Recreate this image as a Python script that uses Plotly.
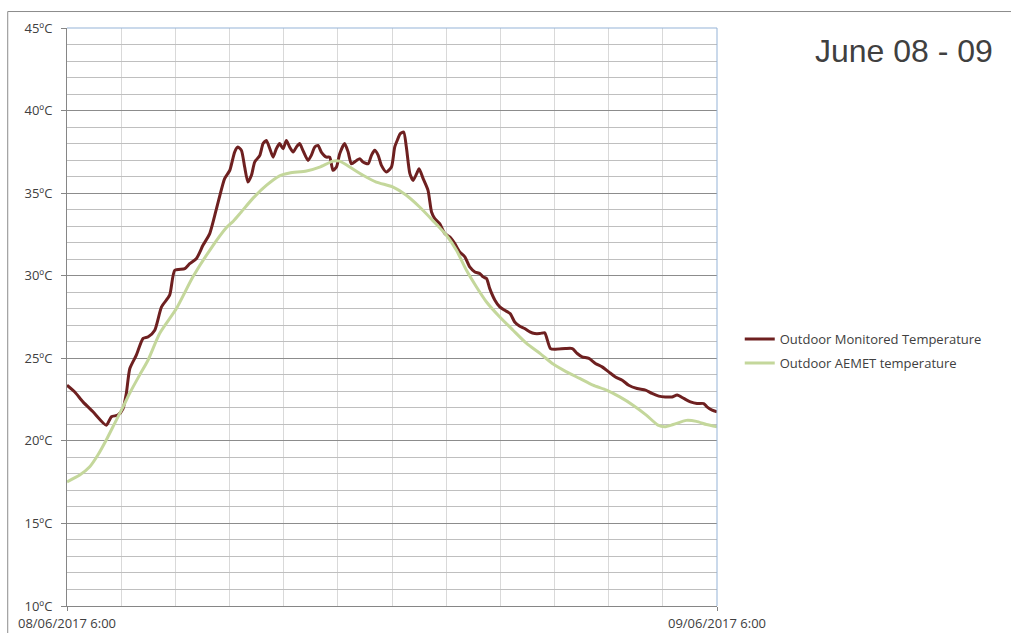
import plotly.graph_objects as go
import pandas as pd

# ---- data (hours after 08/06/2017 6:00, temperature in ºC) ----
mon_hours = [0.00, 0.28, 0.59, 0.96, 1.45, 1.64, 1.88, 2.07, 2.19, 2.32, 2.56, 2.81, 3.00, 3.24,
             3.49, 3.79, 3.98, 4.35, 4.53, 4.78, 5.02, 5.27, 5.52, 5.82, 6.01, 6.19, 6.31, 6.44,
             6.56, 6.68, 6.81, 6.93, 7.12, 7.24, 7.36, 7.49, 7.61, 7.73, 7.85, 7.98, 8.10, 8.22,
             8.35, 8.47, 8.59, 8.71, 8.90, 9.02, 9.15, 9.27, 9.39, 9.58, 9.70, 9.82, 9.95, 10.07,
             10.25, 10.38, 10.50, 10.69, 10.81, 10.93, 11.12, 11.24, 11.36, 11.49, 11.61, 11.79,
             11.98, 12.10, 12.22, 12.30, 12.43, 12.53, 12.66, 12.78, 12.91, 13.00, 13.15, 13.33,
             13.46, 13.58, 13.76, 13.95, 14.13, 14.32, 14.50, 14.69, 14.87, 15.06, 15.24, 15.36,
             15.49, 15.61, 15.80, 15.98, 16.16, 16.36, 16.53, 16.72, 16.90, 17.09, 17.27, 17.46,
             17.64, 17.70, 17.85, 18.03, 18.40, 18.66, 18.84, 19.02, 19.27, 19.51, 19.76, 20.00,
             20.25, 20.50, 20.74, 21.05, 21.36, 21.60, 21.85, 22.09, 22.34, 22.53, 22.77, 23.02,
             23.26, 23.51, 23.63, 23.82, 24.00]
mon_temp = [23.37, 22.97, 22.36, 21.76, 20.95, 21.46, 21.56, 21.96, 22.87, 24.38, 25.19, 26.20, 26.30, 26.70,
            28.11, 28.82, 30.33, 30.43, 30.73, 31.04, 31.84, 32.55, 34.06, 35.88, 36.38, 37.49, 37.79, 37.59,
            36.58, 35.67, 36.08, 36.88, 37.29, 38.00, 38.19, 37.69, 37.18, 37.69, 38.00, 37.69, 38.19, 37.79,
            37.49, 37.79, 38.00, 37.59, 36.98, 37.29, 37.79, 37.89, 37.49, 37.18, 37.18, 36.38, 36.58, 37.39,
            38.00, 37.49, 36.78, 36.98, 37.09, 36.88, 36.78, 37.29, 37.59, 37.29, 36.68, 36.28,
            36.58, 37.79, 38.30, 38.60, 38.70, 37.79, 36.18, 35.77, 36.18, 36.48, 35.88, 35.17,
            33.86, 33.46, 33.15, 32.55, 32.35, 31.94, 31.44, 31.14, 30.53, 30.23, 30.13, 29.93,
            29.83, 29.22, 28.52, 28.11, 27.91, 27.71, 27.20, 26.94, 26.80, 26.60, 26.50, 26.50,
            26.55, 26.30, 25.59, 25.55, 25.59, 25.59, 25.29, 25.09, 24.99, 24.69, 24.48, 24.18,
            23.87, 23.67, 23.37, 23.17, 23.07, 22.87, 22.71, 22.66, 22.66, 22.77, 22.57, 22.36,
            22.26, 22.26, 22.06, 21.86, 21.76]

aemet_hours = [0.00, 0.47, 0.84, 1.14, 1.45, 1.76, 2.07, 2.31, 2.68, 2.99, 3.42, 4.04, 4.65, 5.27,
               5.88, 6.14, 6.38, 6.87, 7.36, 7.85, 8.22, 8.84, 9.33, 9.82, 10.07, 10.44, 10.93,
               11.42, 12.04, 12.53, 13.02, 13.50, 14.01, 14.38, 14.75, 15.12, 15.49, 15.98, 16.47,
               16.97, 17.46, 17.95, 18.44, 18.93, 19.42, 19.92, 20.41, 20.90, 21.39, 21.82, 22.07,
               22.38, 22.87, 23.24, 23.61, 24.00]
aemet_temp = [17.52, 17.93, 18.43, 19.14, 20.05, 21.06, 22.06, 22.87, 23.98, 24.88, 26.50, 28.01, 29.93, 31.54,
              32.90, 33.30, 33.75, 34.70, 35.47, 36.05, 36.22, 36.34, 36.58, 36.94, 36.94, 36.58, 36.08,
              35.67, 35.37, 34.87, 34.16, 33.35, 32.45, 31.54, 30.33, 29.32, 28.41, 27.50, 26.70,
              25.90, 25.30, 24.65, 24.18, 23.78, 23.37, 23.07, 22.66, 22.16, 21.56, 20.95, 20.85,
              20.99, 21.24, 21.18, 20.99, 20.85]

start_time = "2017-06-08 06:00"
end_time = "2017-06-09 06:00"
x_tick_labels = ["08/06/2017 6:00", "09/06/2017 6:00"]
series_names = ["Outdoor Monitored Temperature", "Outdoor AEMET temperature"]
title_text = "June 08 - 09"

base = pd.Timestamp(start_time)
mon_x = base + pd.to_timedelta(mon_hours, unit="h")
aemet_x = base + pd.to_timedelta(aemet_hours, unit="h")

fig = go.Figure()
fig.add_trace(go.Scatter(x=mon_x, y=mon_temp, mode="lines", name=series_names[0], legendgroup="a",
                         line=dict(color="#6E2020", width=3, shape="spline", smoothing=0.6)))
fig.add_trace(go.Scatter(x=aemet_x, y=aemet_temp, mode="lines", name=series_names[1], legendgroup="b",
                         line=dict(color="#C4D79B", width=3, shape="spline", smoothing=0.6)))

fig.update_layout(
    width=1011, height=633,
    margin=dict(l=67, r=294, t=28, b=27),
    paper_bgcolor="white", plot_bgcolor="white",
    font=dict(family="Open Sans, Noto Sans, sans-serif", size=13, color="#404040"),
    showlegend=True,
    legend=dict(x=1.035, y=0.441, xanchor="left", yanchor="middle",
                bgcolor="rgba(0,0,0,0)", font=dict(size=13, color="#404040"),
                itemwidth=30, tracegroupgap=4, traceorder="grouped"),
)

fig.update_xaxes(
    type="date",
    range=[start_time, end_time],
    tickmode="array",
    tickvals=[start_time, end_time],
    ticktext=x_tick_labels,
    ticks="outside", ticklen=4, tickcolor="#868686",
    showline=True, linecolor="#868686", linewidth=1,
    showgrid=False,
    minor=dict(tick0=start_time, dtick=7200000, showgrid=True, gridcolor="#D9D9D9",
               gridwidth=1, ticks=""),
    zeroline=False,
    ticklabelstandoff=1,
    automargin=False,
)

fig.update_yaxes(
    range=[10, 45],
    tick0=10, dtick=5,
    ticksuffix="ºC",
    ticks="outside", ticklen=5, tickcolor="#868686",
    showline=True, linecolor="#868686", linewidth=1,
    showgrid=True, gridcolor="#8C8C8C", gridwidth=1,
    minor=dict(dtick=1, showgrid=True, gridcolor="#BFBFBF", gridwidth=1, ticks=""),
    zeroline=False,
    ticklabelstandoff=6,
    automargin=False,
)

# plot-area top/right border (blue) and outer chart frame
fig.add_shape(type="line", xref="paper", yref="paper", x0=0, x1=1, y0=1, y1=1,
              line=dict(color="#95B3D7", width=1))
fig.add_shape(type="line", xref="paper", yref="paper", x0=1, x1=1, y0=0, y1=1,
              line=dict(color="#95B3D7", width=1))
fig.add_shape(type="rect", xref="paper", yref="paper", x0=-0.0912, x1=1.6, y0=-0.2, y1=1.0285,
              line=dict(color="#8C8C8C", width=1), layer="below")

fig.add_annotation(text=title_text, xref="paper", yref="paper", x=1.427, y=0.961,
                   xanchor="right", yanchor="middle", showarrow=False,
                   font=dict(family="Liberation Sans Narrow, Liberation Sans, Arial, sans-serif",
                             size=32, color="#404040"))

fig.write_html("out.html", config={"displayModeBar": False},
               post_script="document.body.style.margin='0';")
